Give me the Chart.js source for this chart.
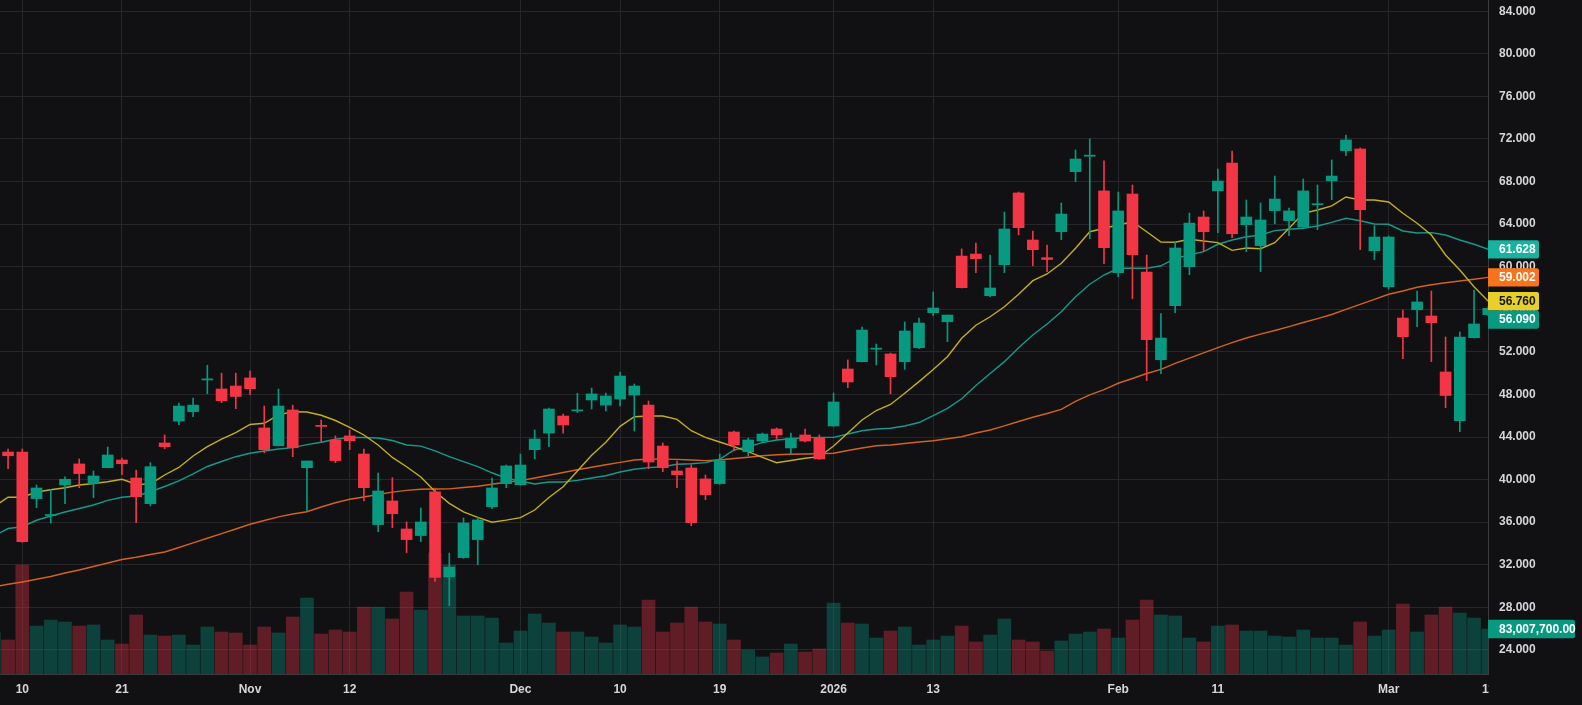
<!DOCTYPE html>
<html><head><meta charset="utf-8">
<script src="https://cdn.jsdelivr.net/npm/chart.js@4.4.1/dist/chart.umd.min.js"></script>
<style>
html,body{margin:0;padding:0;background:#111113;overflow:hidden;}
#wrap{width:1582px;height:705px;position:relative;}
</style></head><body>
<div id="wrap"><canvas id="c" width="1582" height="705"></canvas></div>
<script>
const dates = ['2025-10-08','2025-10-09','2025-10-10','2025-10-13','2025-10-14','2025-10-15','2025-10-16','2025-10-17','2025-10-20','2025-10-21',
'2025-10-22','2025-10-23','2025-10-24','2025-10-27','2025-10-28','2025-10-29','2025-10-30','2025-10-31','2025-11-03','2025-11-04',
'2025-11-05','2025-11-06','2025-11-07','2025-11-10','2025-11-11','2025-11-12','2025-11-13','2025-11-14','2025-11-17','2025-11-18',
'2025-11-19','2025-11-20','2025-11-21','2025-11-24','2025-11-25','2025-11-26','2025-11-28','2025-12-01','2025-12-02','2025-12-03',
'2025-12-04','2025-12-05','2025-12-08','2025-12-09','2025-12-10','2025-12-11','2025-12-12','2025-12-15','2025-12-16','2025-12-17',
'2025-12-18','2025-12-19','2025-12-22','2025-12-23','2025-12-24','2025-12-26','2025-12-29','2025-12-30','2025-12-31','2026-01-02',
'2026-01-05','2026-01-06','2026-01-07','2026-01-08','2026-01-09','2026-01-12','2026-01-13','2026-01-14','2026-01-15','2026-01-16',
'2026-01-20','2026-01-21','2026-01-22','2026-01-23','2026-01-26','2026-01-27','2026-01-28','2026-01-29','2026-01-30','2026-02-02',
'2026-02-03','2026-02-04','2026-02-05','2026-02-06','2026-02-09','2026-02-10','2026-02-11','2026-02-12','2026-02-13','2026-02-17',
'2026-02-18','2026-02-19','2026-02-20','2026-02-23','2026-02-24','2026-02-25','2026-02-26','2026-02-27','2026-03-02','2026-03-03',
'2026-03-04','2026-03-05','2026-03-06','2026-03-09','2026-03-10','2026-03-11'];

const opens = [42.2,42.59,42.59,38.21,36.62,39.49,41.47,39.62,41.12,41.84,
40.15,37.74,43.44,45.49,46.38,49.36,48.51,48.79,49.55,44.85,
43.18,46.54,41.12,45.10,43.72,44.10,42.40,35.77,37.99,35.36,
34.74,38.84,30.86,32.67,34.36,37.45,39.62,39.52,42.81,44.37,
45.97,46.45,47.48,47.00,47.57,47.94,47.00,43.15,40.81,41.09,
40.06,39.62,44.47,42.62,43.62,44.75,42.97,44.19,43.90,45.04,
50.39,51.08,52.25,51.80,51.08,52.39,55.68,54.83,61.00,61.19,
57.28,60.19,66.93,62.51,60.85,63.29,68.93,70.38,67.12,59.44,
66.83,59.50,51.26,56.34,60.00,64.67,67.14,69.74,63.95,61.98,
65.27,64.33,63.73,65.82,68.08,70.90,71.06,61.50,58.12,55.18,
55.96,55.37,50.11,45.53,53.33,55.50];

const highs = [42.9,42.87,42.87,39.49,39.05,40.27,41.94,40.81,43.06,42.03,
40.90,41.59,44.19,47.19,47.66,50.74,50.00,50.00,50.19,46.91,
48.51,47.00,41.75,45.60,44.10,44.66,42.87,40.62,40.18,36.02,
37.33,39.21,33.09,36.40,36.49,40.15,41.37,42.40,44.66,46.72,
46.16,48.11,48.60,48.13,50.11,48.98,47.38,43.44,41.75,41.37,
40.43,42.40,44.56,43.90,44.37,44.85,44.37,44.75,44.19,48.13,
51.24,54.34,52.74,51.89,54.81,55.18,57.63,55.46,61.67,62.23,
61.10,65.14,67.02,63.36,62.04,65.99,70.97,72.00,69.94,67.02,
67.68,61.10,55.59,62.35,65.05,65.24,69.18,70.87,66.27,65.99,
68.52,65.52,68.24,67.68,70.03,72.38,71.16,63.86,62.89,55.93,
57.72,57.72,53.40,53.87,57.81,56.30];

const lows = [41.9,41.02,34.10,37.36,35.92,37.74,39.24,38.30,41.10,40.46,
35.95,37.53,42.90,45.15,45.90,48.07,47.22,46.66,47.97,42.53,
43.15,42.15,37.00,43.50,41.59,42.81,38.00,35.10,35.48,33.14,
34.17,30.44,28.14,32.60,32.00,37.27,39.24,39.46,41.96,43.09,
44.37,46.29,46.63,46.44,46.91,44.56,41.02,40.74,39.24,35.67,
38.11,39.55,42.70,42.24,43.50,43.81,42.40,43.53,41.90,45.00,
48.63,51.05,50.77,48.07,50.36,52.30,55.40,52.96,58.00,59.44,
57.18,59.44,63.00,60.10,59.53,62.54,68.00,62.63,60.28,59.06,
57.00,49.29,49.95,55.68,59.25,61.41,63.20,62.73,61.41,59.53,
64.04,62.92,63.57,63.48,66.30,70.43,61.60,60.66,57.90,51.36,
54.37,51.08,46.75,44.50,53.30,55.40];

const closes = [42.6,42.24,34.17,39.21,36.72,40.03,40.56,40.34,42.31,41.49,
38.39,41.21,43.09,46.91,47.00,49.46,47.41,47.81,48.54,42.81,
46.91,42.99,41.75,45.00,41.78,43.65,39.24,38.93,36.79,34.36,
36.02,30.80,31.77,35.92,36.21,39.21,41.28,41.37,43.81,46.63,
45.13,46.55,48.05,47.85,49.73,48.79,41.65,41.12,40.46,35.95,
38.58,41.75,43.28,43.72,44.28,44.19,43.90,43.62,41.94,47.29,
49.17,54.05,52.35,49.67,53.96,54.71,56.12,55.46,58.03,60.75,
58.00,63.54,63.67,61.60,60.68,64.95,70.12,70.48,61.79,65.24,
61.13,53.14,53.30,61.76,64.10,63.29,68.05,63.10,64.67,64.39,
66.36,65.24,67.12,65.92,68.52,71.91,65.36,62.79,62.79,53.43,
56.69,54.74,47.90,53.40,54.62,56.09];

// volume in millions of shares
const volumes = [77.5,62.7,201.1,88.5,99.6,95.9,88.5,90.4,62.7,55.3,
108.8,71.9,70.1,71.9,53.5,86.7,77.5,75.6,53.5,86.7,
75.6,105.1,140.2,73.8,81.2,77.5,123.6,123.6,101.5,151.3,
118.1,223.2,201.1,107.0,107.0,103.3,57.2,79.3,110.7,94.1,
77.5,77.5,68.3,57.2,90.4,86.7,136.5,77.5,94.1,123.6,
95.9,92.2,62.7,44.3,31.4,38.7,55.3,40.6,46.1,131.0,
94.1,92.2,66.4,79.3,86.7,53.5,62.7,70.1,88.5,59.0,
71.9,101.5,62.7,59.0,42.4,60.9,73.8,77.5,83.0,66.4,
99.6,136.5,108.8,107.0,66.4,59.0,88.5,90.4,79.3,79.3,
70.1,68.3,81.2,66.4,66.4,53.5,95.9,70.1,81.2,129.1,
77.5,108.8,123.6,112.5,103.3,83.0077];

const maFast = [37.44,38.34,38.34,38.83,39.05,39.23,39.49,39.63,39.80,40.03,
39.56,39.59,40.43,41.14,42.22,43.09,43.81,44.42,45.18,45.29,
46.07,46.38,46.35,46.04,45.55,44.91,44.19,43.25,42.08,41.21,
40.24,38.87,37.77,36.97,36.45,35.99,36.19,36.43,37.14,38.31,
39.33,40.80,42.29,43.50,45.00,45.91,45.97,45.97,45.66,44.59,
43.97,43.53,43.09,42.62,42.09,41.59,41.79,42.00,42.15,43.16,
44.38,45.60,46.49,47.06,48.11,49.20,50.34,51.55,53.28,54.50,
55.30,56.24,57.41,58.69,59.32,60.32,61.73,63.29,63.61,63.92,
64.23,63.29,62.32,62.30,62.58,62.42,62.26,61.54,61.76,61.69,
62.26,63.61,65.02,65.33,65.71,66.55,66.27,66.27,66.08,65.02,
64.08,62.98,61.10,59.69,58.12,56.76];

const maMid = [34.70,35.40,35.57,36.18,36.58,36.95,37.28,37.61,38.04,38.34,
38.46,38.86,39.35,39.87,40.53,41.23,41.70,42.15,42.47,42.69,
42.87,43.00,43.28,43.51,43.79,43.97,43.95,43.91,43.67,43.25,
43.14,42.69,42.15,41.68,41.21,40.64,40.12,39.87,39.59,39.77,
39.77,39.93,40.15,40.36,40.71,40.97,41.12,41.21,41.44,41.49,
41.59,41.91,42.78,43.09,43.47,43.72,43.84,43.94,43.97,43.97,
44.28,44.59,44.75,44.82,45.04,45.36,46.02,46.70,47.59,48.84,
49.97,51.08,52.39,53.59,54.62,55.77,57.18,58.35,59.22,59.85,
59.85,59.85,60.09,60.79,61.10,61.41,62.11,62.51,62.82,62.98,
63.39,63.52,63.61,63.83,64.17,64.55,64.32,64.01,63.99,63.36,
63.17,63.20,62.98,62.51,62.11,61.628];

const maSlow = [29.91,30.16,30.38,30.63,30.89,31.22,31.51,31.83,32.16,32.49,
32.70,32.96,33.20,33.62,34.06,34.49,34.93,35.36,35.80,36.16,
36.49,36.77,36.98,37.42,37.82,38.15,38.36,38.60,38.82,38.99,
39.09,39.11,39.13,39.26,39.38,39.56,39.75,39.90,40.15,40.41,
40.67,40.92,41.16,41.39,41.62,41.84,41.93,41.92,41.90,41.84,
41.78,41.84,41.98,42.10,42.24,42.33,42.38,42.40,42.43,42.47,
42.73,42.97,43.18,43.25,43.39,43.53,43.65,43.83,44.02,44.38,
44.66,45.04,45.46,45.86,46.21,46.59,47.34,47.95,48.46,49.05,
49.50,49.97,50.36,50.91,51.42,51.91,52.39,52.86,53.30,53.66,
54.01,54.37,54.76,55.12,55.51,56.00,56.47,56.94,57.41,57.72,
58.07,58.31,58.49,58.66,58.82,59.002];

const tickDates = ['2025-10-10','2025-10-21','2025-11-03','2025-11-12','2025-12-01','2025-12-10','2025-12-19','2026-01-02','2026-01-13','2026-02-02','2026-02-11','2026-03-02','2026-03-11'];
const tickLabels = ['10','21','Nov','12','Dec','10','19','2026','13','Feb','11','Mar','11'];
const priceTicks = [24,28,32,36,40,44,48,52,56,60,64,68,72,76,80,84];

const BG = '#111113', GRID = '#27272b', TXT = '#d6d6da', BORDER = '#3a3a3f';
const UP = '#089981', DOWN = '#F23645';
const FONT_FAMILY = "'Liberation Sans', Arial, sans-serif";
const idx = dates.map((d, i) => i);
const tickIdx = tickDates.map(d => dates.indexOf(d));
const isUp = closes.map((c, i) => c >= opens[i]);
const candleColor = isUp.map(u => u ? UP : DOWN);
const volColor = isUp.map(u => u ? 'rgba(8,153,129,0.36)' : 'rgba(242,54,69,0.36)');
const X_MIN = 0.433, X_MAX = 104.98, Y_MIN = 21.733, Y_MAX = 85.06, VOL_MAX = 1243.3;

const bgPlugin = {
  id: 'bg',
  beforeDraw(c) {
    const ctx = c.ctx; ctx.save(); ctx.fillStyle = BG; ctx.fillRect(0, 0, c.width, c.height); ctx.restore();
  }
};

function box(ctx, x, y, w, h, r) {
  ctx.beginPath();
  if (ctx.roundRect) ctx.roundRect(x, y, w, h, [0, r, r, 0]); else ctx.rect(x, y, w, h);
  ctx.fill();
}

const tagPlugin = {
  id: 'tags',
  afterDraw(c) {
    const ctx = c.ctx, ya = c.scales.y, yv = c.scales.yv, ca = c.chartArea;
    ctx.save();
    // price-axis panel hides the part of the time labels that runs past the plot
    ctx.fillStyle = BG;
    ctx.fillRect(ca.right + 1, ca.bottom + 1, c.width - ca.right - 1, c.height - ca.bottom - 1);
    const last = dates.length - 1;
    const tags = [
      { v: maMid[last], bg: '#17b3a0', fg: '#ffffff' },
      { v: maSlow[last], bg: '#f7731c', fg: '#ffffff' },
      { v: maFast[last], bg: '#e8d02a', fg: '#141414' },
      { v: closes[last], bg: isUp[last] ? UP : DOWN, fg: '#ffffff' }
    ].map(t => Object.assign(t, { y: ya.getPixelForValue(t.v) })).sort((a, b) => a.y - b.y);
    const H = 18.4;
    let prevBottom = -1e9;
    ctx.font = 'bold 12px ' + FONT_FAMILY;
    ctx.textBaseline = 'middle';
    ctx.textAlign = 'left';
    tags.forEach(t => {
      let top = t.y - H / 2;
      if (top < prevBottom) top = prevBottom;
      prevBottom = top + H;
      ctx.fillStyle = t.bg;
      box(ctx, ca.right, top, 51, H, 2);
      ctx.fillStyle = t.fg;
      ctx.fillText(t.v.toFixed(3), ca.right + 11, top + H / 2 + 0.5);
    });
    const vy = yv.getPixelForValue(volumes[last]);
    ctx.fillStyle = isUp[last] ? UP : DOWN;
    box(ctx, ca.right, vy - H / 2, 87, H, 2);
    ctx.fillStyle = '#ffffff';
    const vtxt = (volumes[last] * 1e6).toLocaleString('en-US', { minimumFractionDigits: 2, maximumFractionDigits: 2 });
    ctx.fillText(vtxt, ca.right + 11, vy + 0.5);
    ctx.restore();
  }
};

const lineDs = (arr, color) => ({
  type: 'line',
  data: idx.map(i => ({ x: i, y: arr[i] })),
  borderColor: color,
  borderWidth: 1.4,
  pointRadius: 0,
  tension: 0,
  fill: false,
  yAxisID: 'y',
  order: 3
});

new Chart(document.getElementById('c'), {
  data: {
    datasets: [
      {
        type: 'bar', label: 'Body',
        data: idx.map(i => ({ x: i, y: [opens[i], closes[i]] })),
        backgroundColor: candleColor, borderWidth: 0,
        barThickness: 11, minBarLength: 1, grouped: false, yAxisID: 'y', order: 1
      },
      {
        type: 'bar', label: 'Wick',
        data: idx.map(i => ({ x: i, y: [lows[i], highs[i]] })),
        backgroundColor: candleColor, borderWidth: 0,
        barThickness: 1, grouped: false, yAxisID: 'y', order: 2
      },
      lineDs(maFast, '#c4ad1f'),
      lineDs(maMid, '#17998c'),
      lineDs(maSlow, '#d2631b'),
      {
        type: 'bar', label: 'Volume',
        data: idx.map(i => ({ x: i, y: volumes[i] })),
        backgroundColor: volColor, borderWidth: 0,
        barThickness: 13, grouped: false, yAxisID: 'yv', order: 10
      }
    ]
  },
  options: {
    responsive: false,
    animation: false,
    devicePixelRatio: 1,
    layout: { padding: 0 },
    plugins: { legend: { display: false }, tooltip: { enabled: false } },
    scales: {
      x: {
        type: 'linear', min: X_MIN, max: X_MAX, bounds: 'data', offset: false,
        grid: { color: GRID, drawTicks: false, offset: false },
        border: { display: true, color: BORDER },
        ticks: {
          autoSkip: false, maxRotation: 0, minRotation: 0, padding: 8, color: TXT,
          font: { family: FONT_FAMILY, size: 12, weight: 'bold' },
          callback: v => { const k = tickIdx.indexOf(v); return k >= 0 ? tickLabels[k] : ''; }
        },
        afterBuildTicks: s => { s.ticks = tickIdx.map(v => ({ value: v })); s.min = X_MIN; s.max = X_MAX; },
        afterFit: s => { s.height = 31; s.paddingLeft = 0; s.paddingRight = 0; }
      },
      y: {
        type: 'linear', position: 'right', min: Y_MIN, max: Y_MAX, bounds: 'data',
        grid: { color: GRID, drawTicks: false },
        border: { display: true, color: BORDER },
        ticks: {
          padding: 11, color: TXT,
          font: { family: FONT_FAMILY, size: 12, weight: 'bold' },
          callback: v => Number(v).toFixed(3)
        },
        afterBuildTicks: s => { s.ticks = priceTicks.map(v => ({ value: v })); s.min = Y_MIN; s.max = Y_MAX; },
        afterFit: s => { s.width = 94; s.paddingTop = 0; s.paddingBottom = 0; }
      },
      yv: { type: 'linear', display: false, min: 0, max: VOL_MAX }
    }
  },
  plugins: [bgPlugin, tagPlugin]
});
</script>
</body></html>
